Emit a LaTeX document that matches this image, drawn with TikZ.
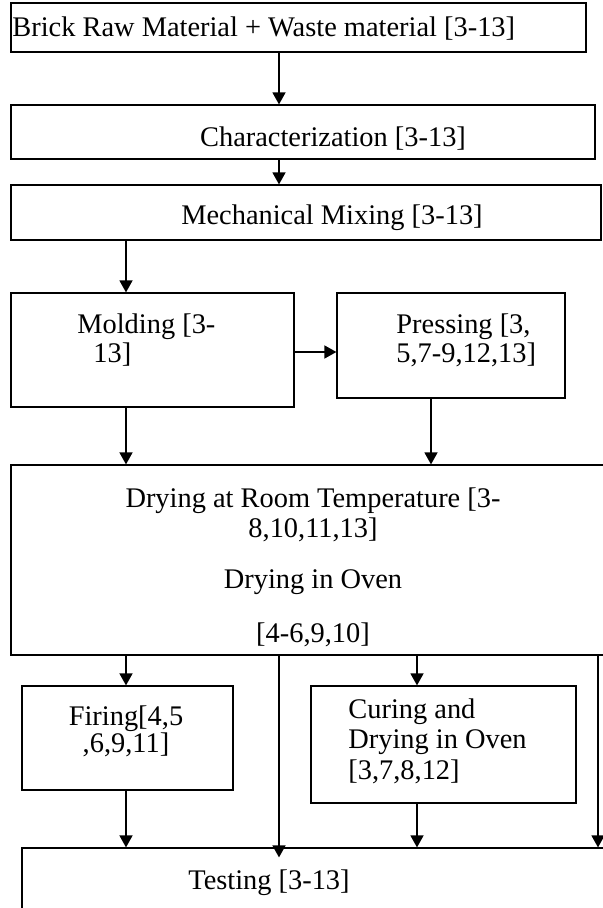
\documentclass[tikz,border=0pt]{standalone}
\usepackage{fontspec}
\setmainfont{Liberation Serif}
\usetikzlibrary{arrows.meta,fit}
\begin{document}
\begin{tikzpicture}[x=0.5pt,y=-0.5pt,>={Triangle[width=6.5pt,length=6pt]},
	box/.style={draw,line width=0.6pt,inner sep=0pt},
	txt/.style={inner sep=0pt,font=\fontsize{14.2pt}{14.5pt}\selectfont},
	arr/.style={->,line width=0.75pt}]
	\useasboundingbox (0,0) rectangle (603,908);
	\clip (0,0) rectangle (603,908);
	% Boxes
	\node[box,fit={(11,3) (586,52)}] (raw) {};
	\node[box,fit={(11,105) (595,159)}] (char) {};
	\node[box,fit={(11,185) (601,240)}] (mix) {};
	\node[box,fit={(11,293) (294,407)}] (mold) {};
	\node[box,fit={(337,293) (565,398)}] (press) {};
	\node[box,fit={(11,465) (615,655)}] (dry) {};
	\node[box,fit={(22,686) (233,790)}] (fire) {};
	\node[box,fit={(311,686) (576,803)}] (cure) {};
	\node[box,fit={(22,848) (620,930)}] (test) {};
	% Columns of the connectors
	\coordinate (colA) at (279,0);
	\coordinate (colB) at (126,0);
	\coordinate (colC) at (431,0);
	\coordinate (colD) at (417,0);
	\coordinate (colE) at (598,0);
	\coordinate (rowM) at (0,352);
	% Texts
	\node[txt,anchor=base west] (rawtxt) at (12,36.5) {Brick Raw Material + Waste material [3-13]};
	\node[txt,anchor=base] (chartxt) at (333,146.5) {Characterization [3-13]};
	\node[txt,anchor=base] (mixtxt) at (332,224.5) {Mechanical Mixing [3-13]};
	\node[txt,anchor=north west,align=left] (moldtxt) at (77,313) {Molding [3-\\\hspace*{8pt}13]};
	\node[txt,anchor=north west,align=left] (presstxt) at (396,313) {Pressing [3,\\5,7-9,12,13]};
	\node[txt,anchor=north,align=center,font=\fontsize{14.2pt}{15pt}\selectfont] (drytxt) at (313,487)
		{Drying at Room Temperature [3-\\8,10,11,13]\\[10.5pt]Drying in Oven\\[12pt][4-6,9,10]};
	\node[txt,anchor=north,align=center,font=\fontsize{14.2pt}{12.25pt}\selectfont] (firetxt) at (126,705) {Firing[4,5\\,6,9,11]};
	\node[txt,anchor=north west,align=left,font=\fontsize{14.2pt}{15.25pt}\selectfont] (curetxt) at (348,698)
		{Curing and\\Drying in Oven\\{}[3,7,8,12]};
	\node[txt,anchor=base] (testtxt) at (269,889.5) {Testing [3-13]};
	% Connectors
	\draw[arr] (raw.south -| colA) -- (char.north -| colA);
	\draw[arr] (char.south -| colA) -- (mix.north -| colA);
	\draw[arr] (mix.south -| colB) -- (mold.north -| colB);
	\draw[arr] (mold.east |- rowM) -- (press.west |- rowM);
	\draw[arr] (mold.south -| colB) -- (dry.north -| colB);
	\draw[arr] (press.south -| colC) -- (dry.north -| colC);
	\draw[arr] (dry.south -| colB) -- (fire.north -| colB);
	\draw[arr] (dry.south -| colD) -- (cure.north -| colD);
	\draw[arr] (dry.south -| colA) -- ([yshift=-5pt]test.north -| colA);
	\draw[arr] (dry.south -| colE) -- (test.north -| colE);
	\draw[arr] (fire.south -| colB) -- (test.north -| colB);
	\draw[arr] (cure.south -| colD) -- (test.north -| colD);
\end{tikzpicture}
\end{document}
